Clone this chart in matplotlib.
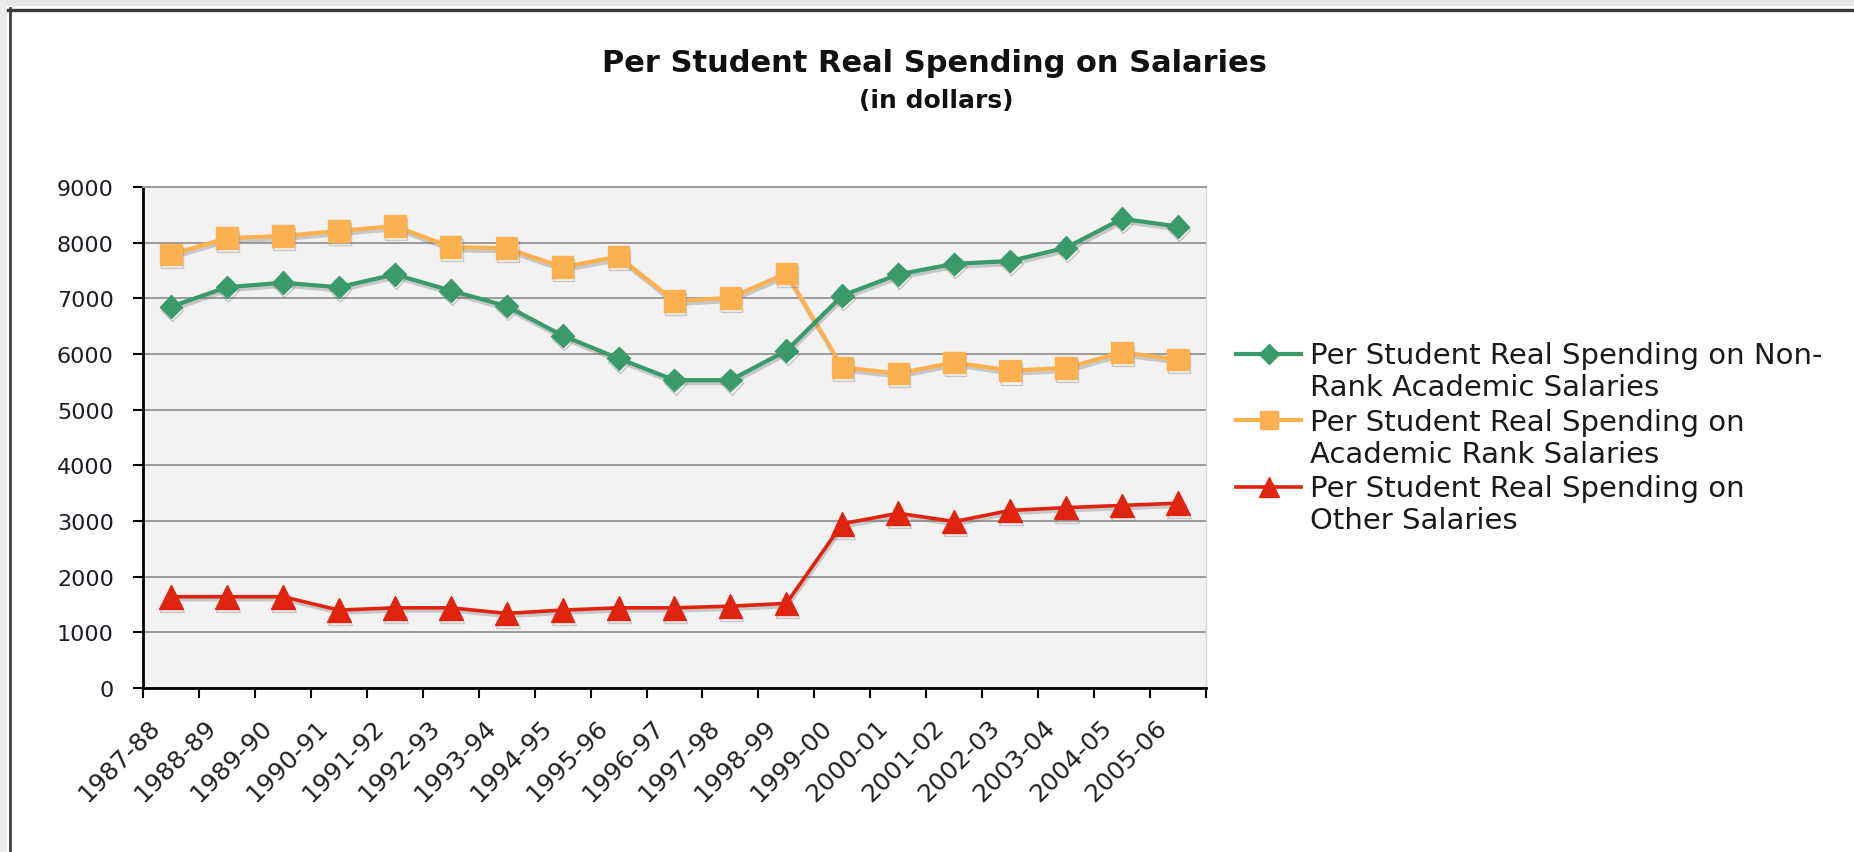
import numpy as np
import matplotlib
matplotlib.use("Agg")
import matplotlib.pyplot as plt
from matplotlib.lines import Line2D
from matplotlib.patches import Rectangle
import matplotlib.patheffects as pe
from matplotlib.transforms import ScaledTranslation

# ---------------- data ----------------
years = ["1987-88", "1988-89", "1989-90", "1990-91", "1991-92", "1992-93",
         "1993-94", "1994-95", "1995-96", "1996-97", "1997-98", "1998-99",
         "1999-00", "2000-01", "2001-02", "2002-03", "2003-04", "2004-05",
         "2005-06"]
non_rank = [6850, 7200, 7280, 7200, 7430, 7140, 6860, 6330, 5920, 5530,
            5530, 6060, 7050, 7430, 7620, 7670, 7910, 8430, 8290]
rank = [7790, 8080, 8120, 8210, 8300, 7920, 7900, 7560, 7750, 6950,
        7010, 7450, 5760, 5650, 5850, 5700, 5750, 6030, 5900]
other = [1640, 1640, 1640, 1400, 1440, 1440, 1340, 1400, 1440, 1440,
         1470, 1520, 2950, 3140, 2990, 3190, 3240, 3280, 3320]
y_ticks = [0, 1000, 2000, 3000, 4000, 5000, 6000, 7000, 8000, 9000]

series_labels = [
    ("Per Student Real Spending on Non-", "Rank Academic Salaries"),
    ("Per Student Real Spending on", "Academic Rank Salaries"),
    ("Per Student Real Spending on", "Other Salaries"),
]

# ---------------- style ----------------
W, H = 1854, 853
green = "#3a9a6c"
orange = "#fbb14f"
red = "#e0230f"
grid_c = "#9a9a9a"
bg = "#f2f2f2"

plt.rcParams["font.family"] = ["DejaVu Sans"]

fig = plt.figure(figsize=(W / 100, H / 100), dpi=100)
fig.patch.set_facecolor("white")

def fx(px):
    return px / W

def fy(py):
    return 1 - py / H

# screenshot frame
fig.add_artist(Rectangle((0, fy(7)), 1, 7 / H, transform=fig.transFigure,
                         facecolor="#e4e4e4", edgecolor="none"))
fig.add_artist(Rectangle((0, 0), fx(7), 1, transform=fig.transFigure,
                         facecolor="#ececec", edgecolor="none"))
fig.add_artist(Line2D([fx(8), 1], [fy(10.5), fy(10.5)], transform=fig.transFigure,
                      color="#383838", lw=2.4))
fig.add_artist(Line2D([fx(10), fx(10)], [0, fy(9)], transform=fig.transFigure,
                      color="#404040", lw=2.0))

# axes
left, right, top, bottom = 143, 1206, 188, 689
ax = fig.add_axes([fx(left), fy(bottom), (right - left) / W, (bottom - top) / H])
ax.set_facecolor(bg)

x = np.arange(len(years))
shadow = [pe.SimpleLineShadow(offset=(0.8, -2.2), shadow_color="#777777", alpha=0.35),
          pe.Normal()]

ax.plot(x, rank, color=orange, lw=3.0, marker="s", ms=15.5,
        markeredgecolor=orange, path_effects=shadow, zorder=3)
ax.plot(x, non_rank, color=green, lw=3.0, marker="D", ms=11.5,
        markeredgecolor=green, path_effects=shadow, zorder=4)
ax.plot(x, other, color=red, lw=2.6, marker="^", ms=17,
        markeredgecolor=red, path_effects=shadow, zorder=5)

ax.set_xlim(-0.5, len(years) - 0.5)
ax.set_ylim(0, 9000)
ax.set_yticks(y_ticks)
ax.set_yticklabels([str(v) for v in y_ticks])
ax.yaxis.grid(True, color=grid_c, lw=1.4)
ax.set_axisbelow(True)

ax.set_xticks(x)
ax.set_xticklabels(years, rotation=45, ha="right", va="top")
ax.set_xticks(np.arange(-0.5, len(years), 1.0), minor=True)
ax.tick_params(axis="x", which="major", length=0, pad=19, labelsize=18,
               labelcolor="#222222")
ax.tick_params(axis="x", which="minor", length=7, width=1.5, direction="out",
               color="black")
ax.tick_params(axis="y", length=7, width=1.5, direction="out", pad=14,
               labelsize=16, labelcolor="#1c1c28")
offset = ScaledTranslation(-6 / 100, 0, fig.dpi_scale_trans)
for lab in ax.get_xticklabels():
    lab.set_transform(lab.get_transform() + offset)

for s in ["left", "bottom"]:
    ax.spines[s].set_color("black")
    ax.spines[s].set_linewidth(2.0)
ax.spines["top"].set_color(grid_c)
ax.spines["top"].set_linewidth(1.4)
ax.spines["right"].set_color("#d8d8d8")
ax.spines["right"].set_linewidth(1.0)

# titles
fig.text(fx(934), fy(63), "Per Student Real Spending on Salaries",
         ha="center", va="center", fontsize=22, fontweight="bold", color="#111111")
fig.text(fx(936), fy(101), "(in dollars)", ha="center", va="center",
         fontsize=18, fontweight="bold", color="#111111")

# legend (drawn manually to match the two-line layout)
markers = [("D", 11.5, green, 3.0), ("s", 15.5, orange, 3.0), ("^", 17, red, 2.6)]
for i, ((l1, l2), (mk, ms, col, lw)) in enumerate(zip(series_labels, markers)):
    yc = 354.5 + i * 66.75
    fig.add_artist(Line2D([fx(1236), fx(1301)], [fy(yc), fy(yc)],
                          transform=fig.transFigure, color=col, lw=lw))
    fig.add_artist(Line2D([fx(1268.5)], [fy(yc)], transform=fig.transFigure,
                          marker=mk, ms=ms * 0.85, color=col, markeredgecolor=col, lw=0))
    base = yc + 9.5
    fig.text(fx(1310), fy(base), l1, ha="left", va="baseline", fontsize=21,
             color="#1a1a1a")
    fig.text(fx(1310), fy(base + 32), l2, ha="left", va="baseline", fontsize=21,
             color="#1a1a1a")

fig.savefig("out.png", dpi=100, facecolor=fig.get_facecolor())
